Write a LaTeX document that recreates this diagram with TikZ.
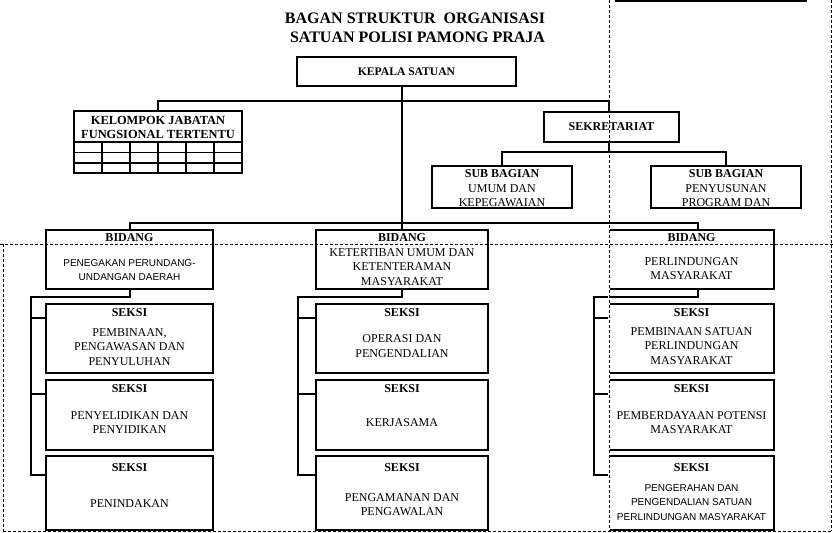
\documentclass[tikz,border=0pt]{standalone}
\usepackage{fontspec}
\setmainfont{Liberation Serif}
\newfontfamily\sansf{Liberation Sans}
\usetikzlibrary{calc}
\begin{document}
\begin{tikzpicture}[x=1pt,y=-1pt,
  box/.style={draw, line width=2.6pt, inner sep=0pt},
  conn/.style={line width=2pt},
  gridln/.style={line width=1.3pt},
  dashln/.style={line width=0.9pt, dash pattern=on 3pt off 2pt},
  hd/.style={font=\bfseries\fontsize{12}{14}\selectfont, align=center, inner sep=0pt},
  txt/.style={font=\fontsize{12}{14.5}\selectfont, align=center, inner sep=0pt},
  stxt/.style={font=\sansf\fontsize{10}{14.5}\selectfont, align=center, inner sep=0pt}]
\useasboundingbox (0,0) rectangle (833,533);

% title
\node[font=\bfseries\fontsize{16}{18}\selectfont, inner sep=0pt] (title1) at (415,18) {BAGAN STRUKTUR\ \ ORGANISASI};
\node[font=\bfseries\fontsize{16}{18}\selectfont, inner sep=0pt] (title2) at (417.5,37) {SATUAN POLISI PAMONG PRAJA};

% top boxes
\node[box, minimum width=219pt, minimum height=29pt, font=\bfseries\fontsize{11.6}{14}\selectfont] (kepala) at (406.5,71.5) {KEPALA SATUAN};
\node[box, minimum width=168pt, minimum height=62pt] (kjf) at (158,142) {};
\node[hd, font=\bfseries\fontsize{12.4}{14}\selectfont] (kjft) at (158,127) {KELOMPOK JABATAN\\FUNGSIONAL TERTENTU};
\draw[gridln] (74,142) -- (242,142);
\draw[gridln] (74,152.5) -- (242,152.5);
\draw[gridln] (74,163) -- (242,163);
\foreach \gx in {102,130,158,186,214} \draw[gridln] (\gx,142) -- (\gx,173);

\node[box, minimum width=135pt, minimum height=30pt, font=\bfseries\fontsize{12}{14}\selectfont] (sek) at (611.5,127) {SEKRETARIAT};
\node[box, minimum width=140pt, minimum height=42pt] (sub1) at (502,187) {};
\node[hd] (sub1h) at (502,174) {SUB BAGIAN};
\node[txt, font=\fontsize{12}{13.5}\selectfont] (sub1t) at (502,195.5) {UMUM DAN\\KEPEGAWAIAN};
\node[box, minimum width=150pt, minimum height=42pt] (sub2) at (726,187) {};
\node[hd] (sub2h) at (726,174) {SUB BAGIAN};
\node[txt, font=\fontsize{12}{13.5}\selectfont] (sub2t) at (726,195.5) {PENYUSUNAN\\PROGRAM DAN};

% bidang boxes
\node[box, minimum width=167pt, minimum height=59pt] (bid1) at (129.5,259.5) {};
\node[box, minimum width=172pt, minimum height=59pt] (bid2) at (402,259.5) {};
\node[box, minimum width=165pt, minimum height=59pt] (bid3) at (691.5,259.5) {};
\node[hd] (bid1h) at (129.5,238) {BIDANG};
\node[hd] (bid2h) at (402,238) {BIDANG};
\node[hd] (bid3h) at (691.5,238) {BIDANG};
\node[stxt] (bid1t) at (129.5,270) {PENEGAKAN PERUNDANG-\\UNDANGAN DAERAH};
\node[txt] (bid2t) at (402,267) {KETERTIBAN UMUM DAN\\KETENTERAMAN\\MASYARAKAT};
\node[txt] (bid3t) at (691.5,268.5) {PERLINDUNGAN\\MASYARAKAT};

% seksi boxes
\node[box, minimum width=167pt, minimum height=69pt] (k11) at (129.5,338.5) {};
\node[box, minimum width=167pt, minimum height=70pt] (k12) at (129.5,415) {};
\node[box, minimum width=167pt, minimum height=74pt] (k13) at (129.5,493) {};
\node[box, minimum width=172pt, minimum height=69pt] (k21) at (402,338.5) {};
\node[box, minimum width=172pt, minimum height=70pt] (k22) at (402,415) {};
\node[box, minimum width=172pt, minimum height=74pt] (k23) at (402,493) {};
\node[box, minimum width=165pt, minimum height=69pt] (k31) at (691.5,338.5) {};
\node[box, minimum width=165pt, minimum height=70pt] (k32) at (691.5,415) {};
\node[box, minimum width=165pt, minimum height=74pt] (k33) at (691.5,493) {};

\foreach \cx/\cn in {129.5/1,402/2,691.5/3}{
  \node[hd] (k\cn1h) at (\cx,313) {SEKSI};
  \node[hd] (k\cn2h) at (\cx,389) {SEKSI};
  \node[hd] (k\cn3h) at (\cx,468) {SEKSI};
}
\node[txt] (k11t) at (129.5,347) {PEMBINAAN,\\PENGAWASAN DAN\\PENYULUHAN};
\node[txt] (k12t) at (129.5,422.5) {PENYELIDIKAN DAN\\PENYIDIKAN};
\node[txt] (k13t) at (129.5,504) {PENINDAKAN};
\node[txt] (k21t) at (402,346) {OPERASI DAN\\PENGENDALIAN};
\node[txt] (k22t) at (402,423) {KERJASAMA};
\node[txt] (k23t) at (402,504.5) {PENGAMANAN DAN\\PENGAWALAN};
\node[txt] (k31t) at (691.5,346) {PEMBINAAN SATUAN\\PERLINDUNGAN\\MASYARAKAT};
\node[txt] (k32t) at (691.5,422.5) {PEMBERDAYAAN POTENSI\\MASYARAKAT};
\node[stxt] (k33t) at (691.5,502.5) {PENGERAHAN DAN\\PENGENDALIAN SATUAN\\PERLINDUNGAN MASYARAKAT};

% connectors top
\coordinate (j0) at (609,101);
\draw[conn] (kjf.north) |- (j0) -- (j0 |- sek.north);
\draw[conn] (kepala.south -| bid2.north) -- (bid2.north);
\coordinate (j1) at (609,152);
\draw[conn] (j1 |- sek.south) -- (j1);
\draw[conn] (sub1.north) |- (j1) -| (sub2.north);
\coordinate (j3) at (698,223);
\draw[conn] (bid1.north) |- (j3) -- (j3 |- bid3.north);

% column connectors
\coordinate (v1) at (31,297);
\coordinate (v2) at (298,297);
\coordinate (v3) at (594,297);
\coordinate (u3) at (698,297);
\foreach \c in {1,2,3}{
  \coordinate (k\c1s) at ($(k\c1.north west)+(0,15)$);
  \coordinate (k\c2s) at ($(k\c2.north west)+(0,15)$);
  \coordinate (k\c3s) at ($(k\c3.north west)+(0,20)$);
}
\draw[conn] (bid1.south) |- (v1) -- (v1 |- k13s) -- (k13s);
\draw[conn] (v1 |- k11s) -- (k11s);
\draw[conn] (v1 |- k12s) -- (k12s);
\draw[conn] (bid2.south) |- (v2) -- (v2 |- k23s) -- (k23s);
\draw[conn] (v2 |- k21s) -- (k21s);
\draw[conn] (v2 |- k22s) -- (k22s);
\draw[conn] (u3 |- bid3.south) -- (u3) -- (v3) -- (v3 |- k33s) -- (k33s);
\draw[conn] (v3 |- k31s) -- (k31s);
\draw[conn] (v3 |- k32s) -- (k32s);

% dashed frame lines
\draw[white, line width=2.8pt] (609,229) -- (609,532);
\draw[dashln] (609,0) -- (609,531);
\draw[dashln] (831.5,0) -- (831.5,531);
\draw[dashln] (0,244) -- (833,244);
\draw[dashln] (3,244) -- (3,531);
\draw[dashln] (3,531) -- (831.5,531);
\draw[line width=1.8pt] (615,1) -- (807,1);
\end{tikzpicture}
\end{document}
